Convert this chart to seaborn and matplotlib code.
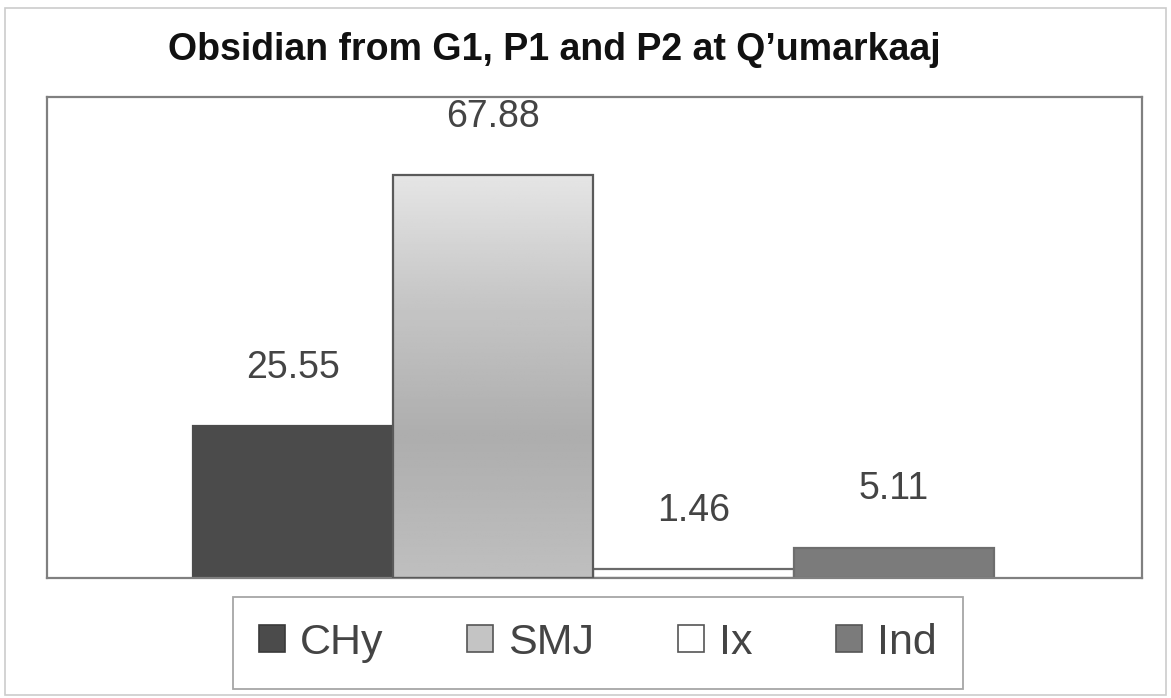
import numpy as np
import matplotlib
matplotlib.use("Agg")
import matplotlib.pyplot as plt
from matplotlib.patches import Patch, Rectangle
import seaborn as sns

sources = ["CHy", "SMJ", "Ix", "Ind"]
percent = [25.55, 67.88, 1.46, 5.11]
labels = ["25.55", "67.88", "1.46", "5.11"]
fill_colors = ["#4b4b4b", "#c4c4c4", "#ffffff", "#7b7b7b"]
edge_colors = ["#4b4b4b", "#5a5a5a", "#6a6a6a", "#6e6e6e"]

sns.set_theme(style="white")
plt.rcParams["font.family"] = ["Liberation Sans", "DejaVu Sans"]

fig = plt.figure(figsize=(11.71, 6.98), dpi=100)
ax = fig.add_axes([0.0401, 0.172, 0.935, 0.689])

sns.barplot(x=sources, y=percent, hue=sources, palette=fill_colors,
            width=1.0, legend=False, saturation=1, ax=ax)

for patch, ec in zip(ax.patches, edge_colors):
    patch.set_edgecolor(ec)
    patch.set_linewidth(1.6)

# soft vertical gradient on the SMJ bar, like the scanned original
smj = ax.patches[1]
x0, w, h = smj.get_x(), smj.get_width(), smj.get_height()
grad = np.interp(np.linspace(0, 1, 200), [0, 0.35, 0.7, 1.0], [0.75, 0.68, 0.78, 0.9])
img = ax.imshow(grad[:, None], extent=[x0, x0 + w, 0, h], origin="lower",
                cmap="gray", vmin=0, vmax=1, aspect="auto", zorder=2)
img.set_clip_path(smj)
smj.set_zorder(3)
smj.set_facecolor("none")

for patch, txt in zip(ax.patches, labels):
    ax.annotate(txt, (patch.get_x() + patch.get_width() / 2, patch.get_height()),
                xytext=(0, 42), textcoords="offset points", ha="center", va="center",
                fontsize=27, color="#444444")

ax.set_xlim(-1.23, 4.24)
ax.set_ylim(0, 81)
ax.set_xticks([])
ax.set_yticks([])
for s in ax.spines.values():
    s.set_color("#808080")
    s.set_linewidth(1.6)

fig.text(554 / 1171, 1 - 50 / 698, "Obsidian from G1, P1 and P2 at Q\u2019umarkaaj",
         ha="center", va="center", fontsize=27, fontweight="bold", color="#111111")

handles = [Patch(facecolor=fc, edgecolor=ec, linewidth=1.2)
           for fc, ec in zip(fill_colors, ["#3a3a3a", "#555555", "#555555", "#555555"])]
leg = fig.legend(handles, sources, loc="center", ncol=4,
                 bbox_to_anchor=(598 / 1171, 1 - 643 / 698), fontsize=31,
                 frameon=True, fancybox=False, handlelength=0.6, handleheight=0.6,
                 handletextpad=0.35, columnspacing=1.95, borderpad=0.6,
                 borderaxespad=0)
leg.get_frame().set_edgecolor("#909090")
leg.get_frame().set_linewidth(1.3)
for t in leg.get_texts():
    t.set_color("#444444")

fig.add_artist(Rectangle((0.004, 0.004), 0.992, 0.985, transform=fig.transFigure,
                         fill=False, edgecolor="#cccccc", linewidth=1.2))

fig.savefig("out.png", dpi=100)
